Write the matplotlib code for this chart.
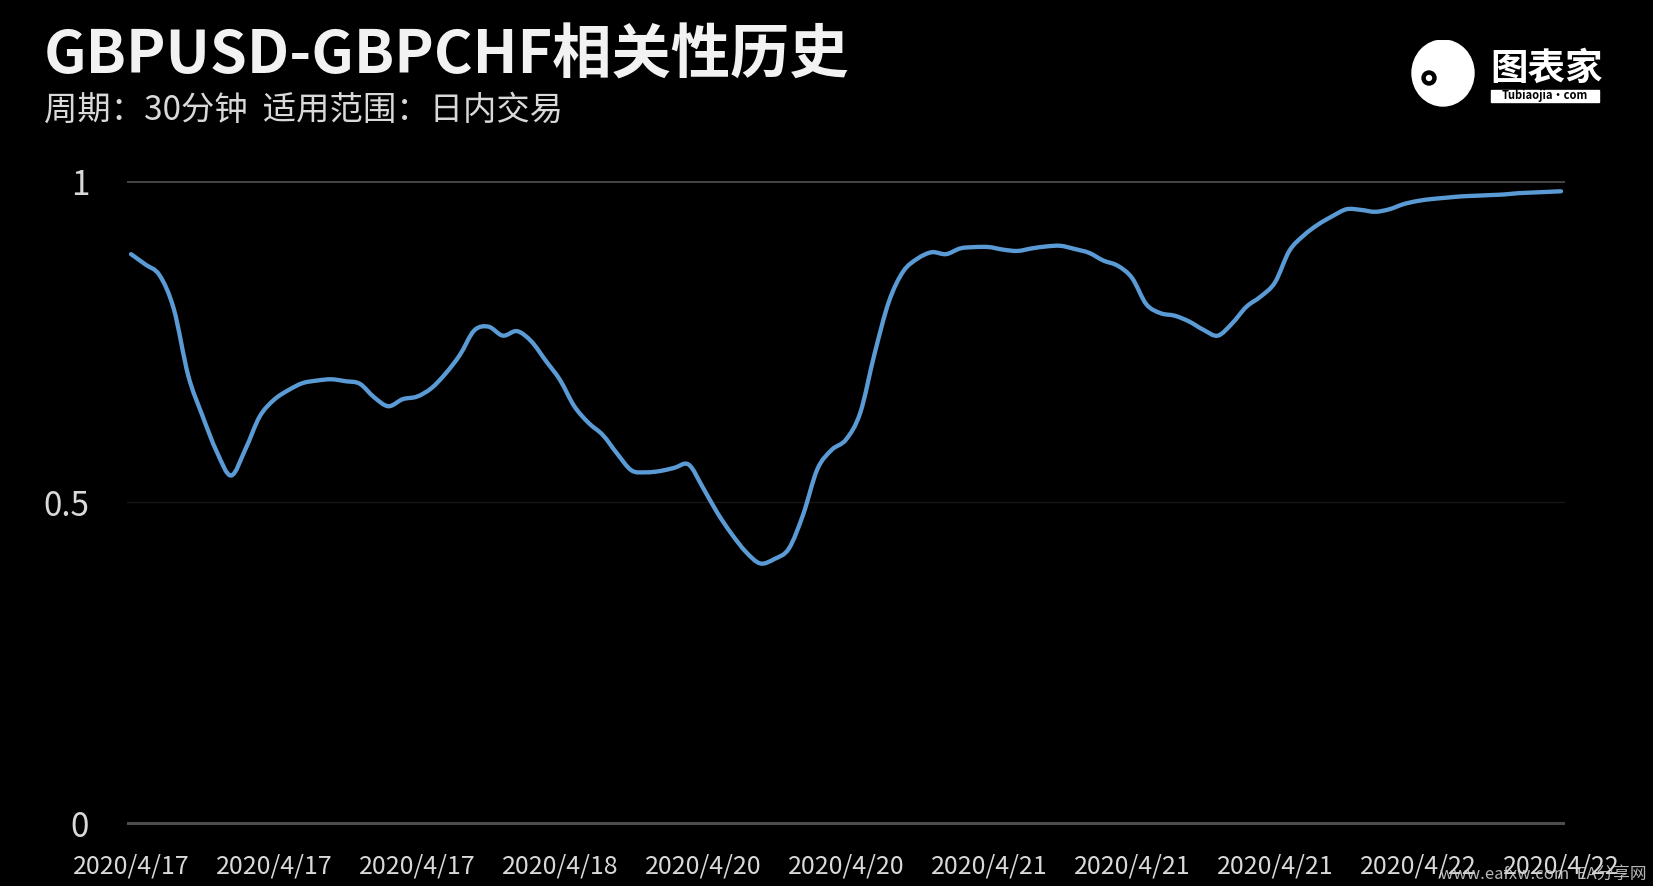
import matplotlib
matplotlib.use("Agg")
import matplotlib.pyplot as plt
from matplotlib.patches import Ellipse, Circle, FancyBboxPatch, PathPatch
from matplotlib.path import Path

plt.rcParams['font.family'] = ['Noto Sans CJK SC', 'DejaVu Sans']

title = "GBPUSD-GBPCHF相关性历史"
subtitle = "周期：30分钟  适用范围：日内交易"

tick_labels = ["2020/4/17", "2020/4/17", "2020/4/17", "2020/4/18", "2020/4/20",
               "2020/4/20", "2020/4/21", "2020/4/21", "2020/4/21", "2020/4/22", "2020/4/22"]

correlation = [
    0.887, 0.871, 0.854, 0.801, 0.698, 0.635, 0.579, 0.542, 0.583, 0.634,
    0.660, 0.675, 0.686, 0.690, 0.692, 0.689, 0.685, 0.664, 0.650, 0.661,
    0.665, 0.678, 0.701, 0.730, 0.768, 0.774, 0.760, 0.767, 0.751, 0.721,
    0.691, 0.650, 0.624, 0.605, 0.576, 0.550, 0.547, 0.549, 0.554, 0.559,
    0.523, 0.484, 0.451, 0.423, 0.405, 0.412, 0.428, 0.481, 0.552, 0.582,
    0.598, 0.640, 0.732, 0.813, 0.860, 0.880, 0.890, 0.887, 0.896, 0.898,
    0.898, 0.894, 0.892, 0.896, 0.899, 0.900, 0.895, 0.889, 0.877, 0.869,
    0.850, 0.809, 0.795, 0.791, 0.782, 0.769, 0.760, 0.779, 0.805, 0.821,
    0.843, 0.892, 0.916, 0.933, 0.946, 0.957, 0.956, 0.953, 0.957, 0.965,
    0.970, 0.973, 0.975, 0.977, 0.978, 0.979, 0.980, 0.982, 0.983, 0.984,
    0.985,
]

y_ticks = [0, 0.5, 1]
y_tick_labels = ["0", "0.5", "1"]

W, H = 1653, 886
fig = plt.figure(figsize=(W / 100, H / 100), dpi=100, facecolor="black")

n = len(correlation)
px_per = 1430 / (n - 1)
left_px = 131 - 0.3 * px_per
width_px = (n - 1 + 0.6) * px_per
ax = fig.add_axes([left_px / W, 0.0635, width_px / W, 0.7677])
ax.set_facecolor("black")
ax.set_xlim(-0.3, n - 1 + 0.3)
ax.set_ylim(-0.01, 1.05)

for s in ax.spines.values():
    s.set_visible(False)

# gridlines
ax.axhline(1, color="#595959", lw=1.1, zorder=1)
ax.axhline(0.5, color="#161616", lw=1.0, zorder=1)
ax.axhline(0, color="#4d4d4d", lw=2.2, zorder=1)

# smoothed line (Catmull-Rom style Bezier through every data point, like Excel's smoothed line)
xs = list(range(n))
verts = [(xs[0], correlation[0])]
codes = [Path.MOVETO]
for i in range(n - 1):
    p0 = (xs[max(i - 1, 0)], correlation[max(i - 1, 0)])
    p1 = (xs[i], correlation[i])
    p2 = (xs[i + 1], correlation[i + 1])
    p3 = (xs[min(i + 2, n - 1)], correlation[min(i + 2, n - 1)])
    c1 = (p1[0] + (p2[0] - p0[0]) / 6, p1[1] + (p2[1] - p0[1]) / 6)
    c2 = (p2[0] - (p3[0] - p1[0]) / 6, p2[1] - (p3[1] - p1[1]) / 6)
    verts += [c1, c2, p2]
    codes += [Path.CURVE4, Path.CURVE4, Path.CURVE4]
ax.add_patch(PathPatch(Path(verts, codes), facecolor="none", edgecolor="#5B9BD5",
                       lw=3.1, capstyle="round", joinstyle="round", zorder=3))

ax.set_yticks(y_ticks)
ax.set_yticklabels(y_tick_labels)
tick_pos = list(range(0, n, 10))
ax.set_xticks(tick_pos)
ax.set_xticklabels(tick_labels)
ax.tick_params(axis="y", length=0, pad=27, labelsize=24, labelcolor="#d9d9d9")
ax.tick_params(axis="x", length=0, pad=17, labelsize=18, labelcolor="#d9d9d9")

# titles
fig.text(44 / W, 1 - 57 / H, title, color="#f2f2f2", fontsize=42.7, fontweight="bold",
         va="center", ha="left")
fig.text(44 / W, 1 - 110 / H, subtitle, color="#d9d9d9", fontsize=24,
         va="center", ha="left")

# logo (approximation)
lax = fig.add_axes([1405 / W, 1 - 110 / H, 200 / W, 70 / H])
lax.set_xlim(0, 200)
lax.set_ylim(0, 70)
lax.axis("off")
lax.add_patch(Ellipse((38, 37), 62, 66, color="white"))
lax.add_patch(Circle((24, 32), 7, color="black"))
lax.add_patch(Circle((24, 32), 2.5, color="white"))
lax.text(142, 42, "图表家", color="white", fontsize=27, fontweight="bold",
         ha="center", va="center")
lax.add_patch(FancyBboxPatch((86, 8), 108, 12, boxstyle="square,pad=0", color="white"))
lax.text(140, 14, "Tubiaojia·com", color="black", fontsize=8, fontstyle="italic",
         fontweight="bold", ha="center", va="center")

# watermark
fig.text(1647 / W, 1 - 874 / H, "www.eafxw.com  EA分享网", color="#cccccc",
         fontsize=12, ha="right", va="center", alpha=0.9)

fig.savefig("out.png", dpi=100, facecolor="black")
